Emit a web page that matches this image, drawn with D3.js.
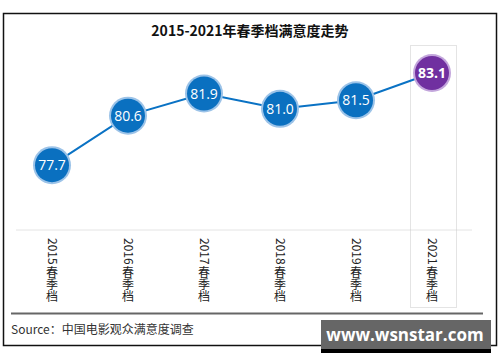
<!DOCTYPE html>
<html>
<head>
<meta charset="utf-8">
<script src="https://cdn.jsdelivr.net/npm/d3@7"></script>
<style>
  body { margin: 0; background: #fff; }
  svg { display: block; }
</style>
</head>
<body>
<div id="chart"></div>
<script>
const seasons = ['2015春季档', '2016春季档', '2017春季档', '2018春季档', '2019春季档', '2021春季档']
const scores = [77.7, 80.6, 81.9, 81.0, 81.5, 83.1]
const highlight = '2021春季档'

const width = 500
const height = 362
const cjk = '"Noto Sans CJK SC", "Noto Sans", sans-serif'

const svg = d3.select('#chart')
  .append('svg')
  .attr('width', width)
  .attr('height', height)

// outer frame
svg.append('rect')
  .attr('x', 3.5).attr('y', 13.5)
  .attr('width', 493).attr('height', 332)
  .attr('fill', '#fff')
  .attr('stroke', '#111')
  .attr('stroke-width', 1.5)

svg.append('text')
  .attr('x', 250).attr('y', 36)
  .attr('text-anchor', 'middle')
  .style('font-family', cjk)
  .style('font-size', '14px')
  .style('font-weight', 'bold')
  .attr('fill', '#111')
  .text('2015-2021年春季档满意度走势')

const x = d3.scalePoint()
  .domain(seasons)
  .range([52, 432])

const y = d3.scaleLinear()
  .domain([73.9, 83.1])
  .range([230, 73])

// baseline
svg.append('line')
  .attr('x1', 16).attr('x2', 472)
  .attr('y1', 230).attr('y2', 230)
  .attr('stroke', '#e4e4e4')
  .attr('stroke-width', 1)

// highlight box for latest season
svg.append('rect')
  .attr('x', x(highlight) - 21.5).attr('y', 45.5)
  .attr('width', 46).attr('height', 262)
  .attr('fill', 'none')
  .attr('stroke', '#c8c8c8')
  .attr('stroke-width', 1)
  .attr('stroke-dasharray', '1,1')

// category labels, vertical: digits turned sideways, hanzi upright
const cats = svg.selectAll('.cat')
  .data(seasons)
  .enter()
  .append('g')
  .attr('class', 'cat')
  .attr('transform', function (d) { return 'translate(' + x(d) + ',238)' })
  .style('font-family', cjk)
  .style('font-size', '12px')
  .attr('fill', '#222')

cats.append('text')
  .attr('transform', 'rotate(90)')
  .attr('dy', '0.35em')
  .text(function (d) { return d.slice(0, 4) })

cats.append('text')
  .attr('x', 0)
  .attr('y', 28)
  .attr('writing-mode', 'tb')
  .style('writing-mode', 'vertical-rl')
  .text(function (d) { return d.slice(4) })

const line = d3.line()
  .x(function (d, i) { return x(seasons[i]) })
  .y(function (d) { return y(d) })

svg.append('path')
  .datum(scores)
  .attr('d', line)
  .attr('fill', 'none')
  .attr('stroke', '#0a72c4')
  .attr('stroke-width', 2)

const dots = svg.selectAll('.dot')
  .data(scores)
  .enter()
  .append('g')
  .attr('class', 'dot')
  .attr('transform', function (d, i) {
    return 'translate(' + x(seasons[i]) + ',' + y(d) + ')'
  })

dots.append('circle')
  .attr('r', 19)
  .attr('fill', function (d, i) { return seasons[i] === highlight ? '#c3a6dc' : '#9cc3e8' })

dots.append('circle')
  .attr('r', 17)
  .attr('fill', function (d, i) { return seasons[i] === highlight ? '#7030a0' : '#0a70c0' })

dots.append('text')
  .attr('text-anchor', 'middle')
  .attr('dy', '0.36em')
  .style('font-family', '"Open Sans", "Noto Sans", sans-serif')
  .style('font-size', '14px')
  .style('font-weight', function (d, i) { return seasons[i] === highlight ? 'bold' : 'normal' })
  .attr('fill', '#fff')
  .text(function (d) { return d.toFixed(1) })

// footer rule
svg.append('line')
  .attr('x1', 11).attr('x2', 483)
  .attr('y1', 313.5).attr('y2', 313.5)
  .attr('stroke', '#666')
  .attr('stroke-width', 2)

svg.append('text')
  .attr('x', 11).attr('y', 334)
  .style('font-family', cjk)
  .style('font-size', '12px')
  .attr('fill', '#333')
  .text('Source：中国电影观众满意度调查')

// watermark
svg.append('rect')
  .attr('x', 321).attr('y', 349)
  .attr('width', 170).attr('height', 4)
  .attr('fill', '#000')

svg.append('rect')
  .attr('x', 321).attr('y', 320)
  .attr('width', 170).attr('height', 29)
  .attr('fill', '#666')

svg.append('text')
  .attr('x', 405).attr('y', 341)
  .attr('text-anchor', 'middle')
  .style('font-family', '"Open Sans", "Noto Sans", sans-serif')
  .style('font-size', '17px')
  .style('font-weight', 'bold')
  .attr('fill', '#fff')
  .text('www.wsnstar.com')
</script>
</body>
</html>
